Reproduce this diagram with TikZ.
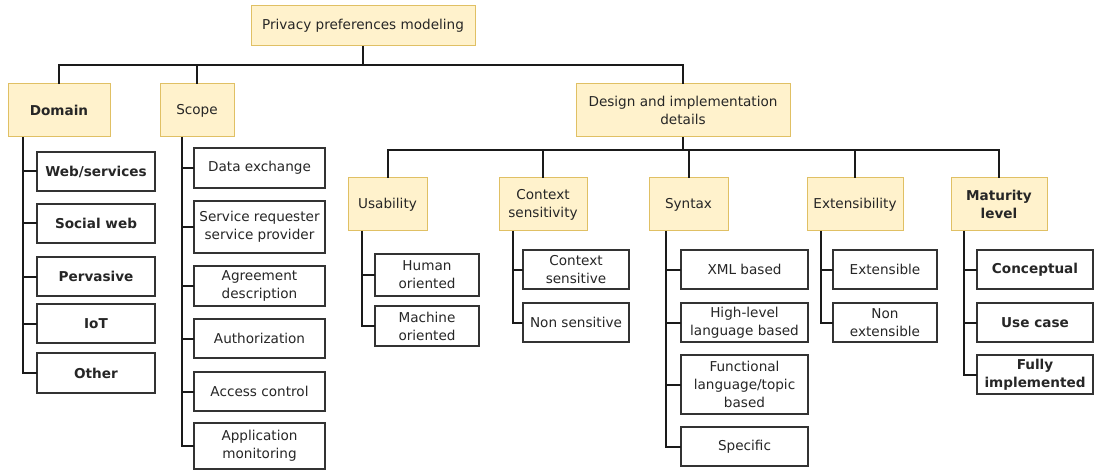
\documentclass[tikz,border=0pt]{standalone}
\usepackage{fontspec}
\setmainfont{DejaVu Sans}
\definecolor{catfill}{HTML}{FFF2CC}
\definecolor{catborder}{HTML}{E0C064}
\definecolor{leafborder}{HTML}{333333}
\definecolor{conncol}{HTML}{1A1A1A}
\begin{document}
\begin{tikzpicture}[x=1pt,y=-1pt,
  every node/.style={font=\fontsize{13.6}{18}\selectfont, text=black!85, align=center, inner sep=0pt, outer sep=0pt},
  cat/.style={draw=catborder, fill=catfill, line width=1pt},
  leaf/.style={draw=leafborder, fill=white, line width=1.2pt},
  conn/.style={draw=conncol, line width=2pt},
  bf/.style={font=\fontsize{13.6}{18}\selectfont\bfseries}]
\useasboundingbox (0,0) rectangle (1094,470);

% level 0
\node[cat, minimum width=224, minimum height=40] (root) at (363,26) {Privacy preferences modeling};
% level 1
\node[cat, bf, minimum width=102, minimum height=53] (domain) at (59,110.5) {Domain};
\node[cat, minimum width=74, minimum height=53] (scope) at (197,110.5) {Scope};
\node[cat, minimum width=214, minimum height=53] (design) at (683,110.5) {Design and implementation\\details};
% level 2
\node[cat, minimum width=79, minimum height=53] (usab) at (387.5,204.5) {Usability};
\node[cat, minimum width=88, minimum height=53] (ctx) at (543,204.5) {Context\\sensitivity};
\node[cat, minimum width=79, minimum height=53] (syn) at (688.5,204.5) {Syntax};
\node[cat, minimum width=96, minimum height=53] (ext) at (855,204.5) {Extensibility};
\node[cat, bf, minimum width=96, minimum height=53] (mat) at (999,204.5) {Maturity\\level};

% domain leaves
\begin{scope}[every node/.append style={leaf, bf, minimum width=118}]
\node[minimum height=39] (web) at (96,171.5) {Web/services};
\node[minimum height=39] (social) at (96,223.5) {Social web};
\node[minimum height=39] (perv) at (96,276.5) {Pervasive};
\node[minimum height=39] (iot) at (96,323.5) {IoT};
\node[minimum height=40] (other) at (96,373) {Other};
\end{scope}
% scope leaves
\begin{scope}[every node/.append style={leaf, minimum width=131}]
\node[minimum height=40] (data) at (259.5,168) {Data exchange};
\node[minimum height=52] (serv) at (259.5,227) {Service requester\\service provider};
\node[minimum height=40] (agree) at (259.5,286) {Agreement\\description};
\node[minimum height=39] (auth) at (259.5,338.5) {Authorization};
\node[minimum height=39] (access) at (259.5,391.5) {Access control};
\node[minimum height=46] (appmon) at (259.5,446) {Application\\monitoring};
\end{scope}
% usability leaves
\begin{scope}[every node/.append style={leaf, minimum width=104}]
\node[minimum height=42] (human) at (427,275) {Human\\oriented};
\node[minimum height=40] (machine) at (427,326) {Machine\\oriented};
\end{scope}
% context leaves
\begin{scope}[every node/.append style={leaf, minimum width=106}]
\node[minimum height=39] (ctxs) at (576,269.5) {Context\\sensitive};
\node[minimum height=39] (nons) at (576,322.5) {Non sensitive};
\end{scope}
% syntax leaves
\begin{scope}[every node/.append style={leaf, minimum width=127}]
\node[minimum height=39] (xml) at (744.5,269.5) {XML based};
\node[minimum height=39] (high) at (744.5,322.5) {High-level\\language based};
\node[minimum height=59] (func) at (744.5,384.5) {Functional\\language/topic\\based};
\node[minimum height=39] (spec) at (744.5,446.5) {Specific};
\end{scope}
% extensibility leaves
\begin{scope}[every node/.append style={leaf, minimum width=104}]
\node[minimum height=39] (extb) at (885,269.5) {Extensible};
\node[minimum height=39] (nonext) at (885,322.5) {Non\\extensible};
\end{scope}
% maturity leaves
\begin{scope}[every node/.append style={leaf, bf, minimum width=116}]
\node[minimum height=39] (concept) at (1035,269.5) {Conceptual};
\node[minimum height=39] (usecase) at (1035,322.5) {Use case};
\node[minimum height=39] (fully) at (1035,374.5) {Fully\\implemented};
\end{scope}

% buses
\coordinate (bus1) at (0,65);
\coordinate (bus2) at (0,150);
\draw[conn] (root.south) -- (root.south |- bus1);
\draw[conn] (domain.north) -- (domain.north |- bus1) -- (design.north |- bus1) -- (design.north);
\draw[conn] (scope.north) -- (scope.north |- bus1);
\draw[conn] (design.south) -- (design.south |- bus2);
\draw[conn] (usab.north) -- (usab.north |- bus2) -- (mat.north |- bus2) -- (mat.north);
\draw[conn] (ctx.north) -- (ctx.north |- bus2);
\draw[conn] (syn.north) -- (syn.north |- bus2);
\draw[conn] (ext.north) -- (ext.north |- bus2);

% spines
\coordinate (sd) at (23,0);
\coordinate (ss) at (182,0);
\coordinate (su) at (362,0);
\coordinate (sc) at (513,0);
\coordinate (sy) at (666,0);
\coordinate (se) at (821,0);
\coordinate (sm) at (964,0);

\draw[conn] (domain.south -| sd) |- (other.west);
\foreach \n in {web,social,perv,iot} \draw[conn] (sd |- \n.west) -- (\n.west);
\draw[conn] (scope.south -| ss) |- (appmon.west);
\foreach \n in {data,serv,agree,auth,access} \draw[conn] (ss |- \n.west) -- (\n.west);
\draw[conn] (usab.south -| su) |- (machine.west);
\draw[conn] (su |- human.west) -- (human.west);
\draw[conn] (ctx.south -| sc) |- (nons.west);
\draw[conn] (sc |- ctxs.west) -- (ctxs.west);
\draw[conn] (syn.south -| sy) |- (spec.west);
\foreach \n in {xml,high,func} \draw[conn] (sy |- \n.west) -- (\n.west);
\draw[conn] (ext.south -| se) |- (nonext.west);
\draw[conn] (se |- extb.west) -- (extb.west);
\draw[conn] (mat.south -| sm) |- (fully.west);
\foreach \n in {concept,usecase} \draw[conn] (sm |- \n.west) -- (\n.west);
\end{tikzpicture}
\end{document}
